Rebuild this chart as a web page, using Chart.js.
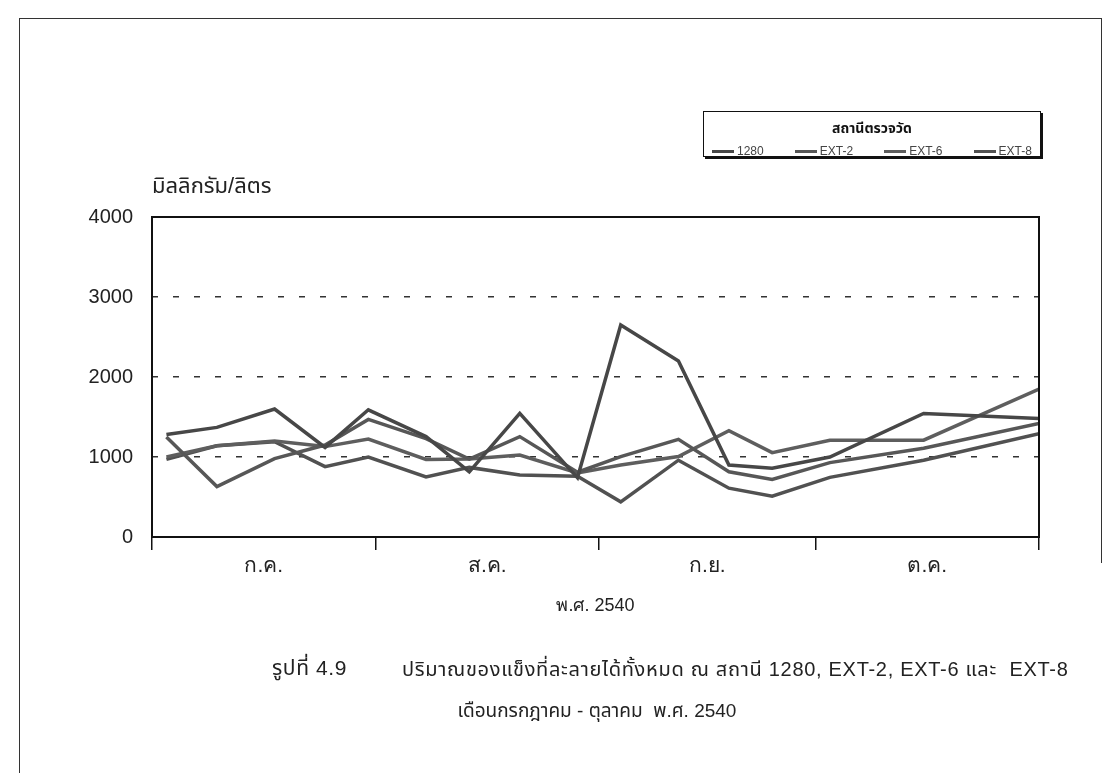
<!DOCTYPE html>
<html lang="th">
<head>
<meta charset="utf-8">
<title>ปริมาณของแข็งที่ละลายได้ทั้งหมด</title>
<script src="https://cdn.jsdelivr.net/npm/chart.js@4.4.0/dist/chart.umd.min.js"></script>
<style>
  html, body { margin: 0; padding: 0; background: #fff; }
  #wrap {
    position: relative; width: 1120px; height: 773px; overflow: hidden;
    font-family: "Liberation Sans", "Noto Sans Thai", "Noto Sans", sans-serif; color: #222;
  }
  #chart { position: absolute; left: 0; top: 0; }
  .page-top { position: absolute; left: 19px; top: 18px; width: 1082px; height: 0; border-top: 1px solid #333; }
  .page-left { position: absolute; left: 19px; top: 18px; width: 0; height: 760px; border-left: 1px solid #333; }
  .page-right { position: absolute; left: 1101px; top: 18px; width: 0; height: 545px; border-left: 1px solid #333; }
  #legend {
    position: absolute; left: 703px; top: 111px; width: 336px; height: 44px;
    border: 1px solid #111; box-shadow: 2px 2px 0 #111; background: #fff;
  }
  #legend .ttl { text-align: center; font-weight: bold; font-size: 14px; margin-top: 6px; color: #111; }
  #legend ul { list-style: none; margin: 5px 0 0 0; padding: 0 8px; display: flex; justify-content: space-between; }
  #legend li { display: flex; align-items: center; font-size: 12px; color: #444; }
  #legend li span.sw { display: inline-block; width: 22px; height: 0; border-top: 3px solid #555; margin-right: 3px; }
  .ytitle { position: absolute; left: 152px; top: 170px; font-size: 22px; color: #222; }
  .cap1a { position: absolute; left: 272px; top: 653px; font-size: 21px; letter-spacing: 0.6px; white-space: pre; color: #222; }
  .cap1b { position: absolute; left: 402px; top: 655px; font-size: 20px; letter-spacing: 0.7px; white-space: pre; color: #222; }
  .cap2 { position: absolute; left: 0; width: 1194px; top: 697px; font-size: 19px; text-align: center; white-space: pre; color: #222; }
</style>
</head>
<body>
<div id="wrap">
  <div class="page-top"></div>
  <div class="page-left"></div>
  <div class="page-right"></div>
  <canvas id="chart" width="1120" height="773"></canvas>
  <div class="ytitle">มิลลิกรัม/ลิตร</div>
  <div id="legend"><div class="ttl">สถานีตรวจวัด</div><ul></ul></div>
  <div class="cap1a">รูปที่ 4.9</div>
  <div class="cap1b">ปริมาณของแข็งที่ละลายได้ทั้งหมด ณ สถานี 1280, EXT-2, EXT-6 และ  EXT-8</div>
  <div class="cap2">เดือนกรกฎาคม - ตุลาคม  พ.ศ. 2540</div>
</div>
<script>
// sampling days, counted from 1 July 1997 (พ.ศ. 2540)
const days = [2, 9, 17, 24, 30, 38, 44, 51, 59, 65, 73, 80, 86, 94, 107, 123];

const s1280 = [1280, 1370, 1600, 1120, 1590, 1255, 815, 1545, 740, 2650, 2200, 900, 860, 1000, 1545, 1480];
const sExt2 = [1250, 630, 980, 1150, 1470, 1230, 975, 1255, 810, 1005, 1220, 815, 720, 930, 1110, 1420];
const sExt6 = [1000, 1140, 1200, 1130, 1225, 970, 975, 1025, 800, 900, 1005, 1330, 1055, 1210, 1210, 1850];
const sExt8 = [970, 1140, 1190, 880, 1000, 750, 870, 775, 760, 440, 960, 610, 510, 745, 960, 1290];

const stationNames = ['1280', 'EXT-2', 'EXT-6', 'EXT-8'];
const monthLabels = ['ก.ค.', 'ส.ค.', 'ก.ย.', 'ต.ค.'];
const monthStarts = [0, 31, 62, 92, 123];
const yTicks = [0, 1000, 2000, 3000, 4000];

const lineColors = ['#474747', '#575757', '#5e5e5e', '#515151'];
const seriesValues = [s1280, sExt2, sExt6, sExt8];

const monthMids = monthStarts.slice(0, -1).map((s, i) => (s + monthStarts[i + 1]) / 2);
const xTickValues = monthStarts.concat(monthMids).sort((a, b) => a - b);

const plotFrame = {
    id: 'plotFrame',
    afterDatasetsDraw(chart) {
        const { ctx, chartArea: a } = chart;
        ctx.save();
        ctx.strokeStyle = '#111';
        ctx.lineWidth = 2;
        ctx.strokeRect(a.left, a.top, a.right - a.left, a.bottom - a.top);
        ctx.restore();
    }
};

// legend box is html, filled from the datasets
const htmlLegend = {
    id: 'htmlLegend',
    afterUpdate(chart) {
        const ul = document.querySelector('#legend ul');
        ul.innerHTML = '';
        chart.data.datasets.forEach(ds => {
            const li = document.createElement('li');
            const sw = document.createElement('span');
            sw.className = 'sw';
            sw.style.borderTopColor = ds.borderColor;
            li.appendChild(sw);
            li.appendChild(document.createTextNode(ds.label));
            ul.appendChild(li);
        });
    }
};

new Chart(document.getElementById('chart'), {
    type: 'line',
    data: {
        datasets: stationNames.map((name, i) => ({
            label: name,
            data: days.map((d, j) => ({ x: d, y: seriesValues[i][j] })),
            borderColor: lineColors[i],
            borderWidth: 3.5,
            pointRadius: 0,
            tension: 0,
            fill: false
        }))
    },
    options: {
        responsive: false,
        animation: false,
        layout: { padding: { top: 217, right: 81, bottom: 156, left: 0 } },
        plugins: {
            legend: { display: false },
            tooltip: { enabled: false }
        },
        scales: {
            x: {
                type: 'linear',
                min: monthStarts[0],
                max: monthStarts[monthStarts.length - 1],
                afterBuildTicks: s => { s.ticks = xTickValues.map(v => ({ value: v })); },
                afterFit: s => { s.height = 80; },
                ticks: {
                    autoSkip: false,
                    maxRotation: 0,
                    padding: 4,
                    color: '#222',
                    font: { family: 'Liberation Sans', size: 21 },
                    callback: v => {
                        const k = monthMids.indexOf(v);
                        return k >= 0 ? monthLabels[k] : '';
                    }
                },
                grid: {
                    drawOnChartArea: false,
                    tickLength: 13,
                    lineWidth: 1.5,
                    color: c => monthStarts.includes(c.tick.value) ? '#111' : 'rgba(0,0,0,0)'
                },
                border: { display: false },
                title: {
                    display: true,
                    text: 'พ.ศ. 2540',
                    color: '#222',
                    font: { family: 'Liberation Sans', size: 18 },
                    padding: 0
                }
            },
            y: {
                min: yTicks[0],
                max: yTicks[yTicks.length - 1],
                afterBuildTicks: s => { s.ticks = yTicks.map(v => ({ value: v })); },
                afterFit: s => { s.width = 152; },
                ticks: {
                    padding: 19,
                    color: '#222',
                    font: { family: 'Liberation Sans', size: 20 },
                    callback: v => String(v)
                },
                grid: {
                    drawTicks: false,
                    lineWidth: 1.5,
                    color: c => (c.tick.value === yTicks[0] || c.tick.value === yTicks[yTicks.length - 1]) ? 'rgba(0,0,0,0)' : '#333'
                },
                border: { display: false, dash: [6, 15] }
            }
        }
    },
    plugins: [plotFrame, htmlLegend]
});
</script>
</body>
</html>
